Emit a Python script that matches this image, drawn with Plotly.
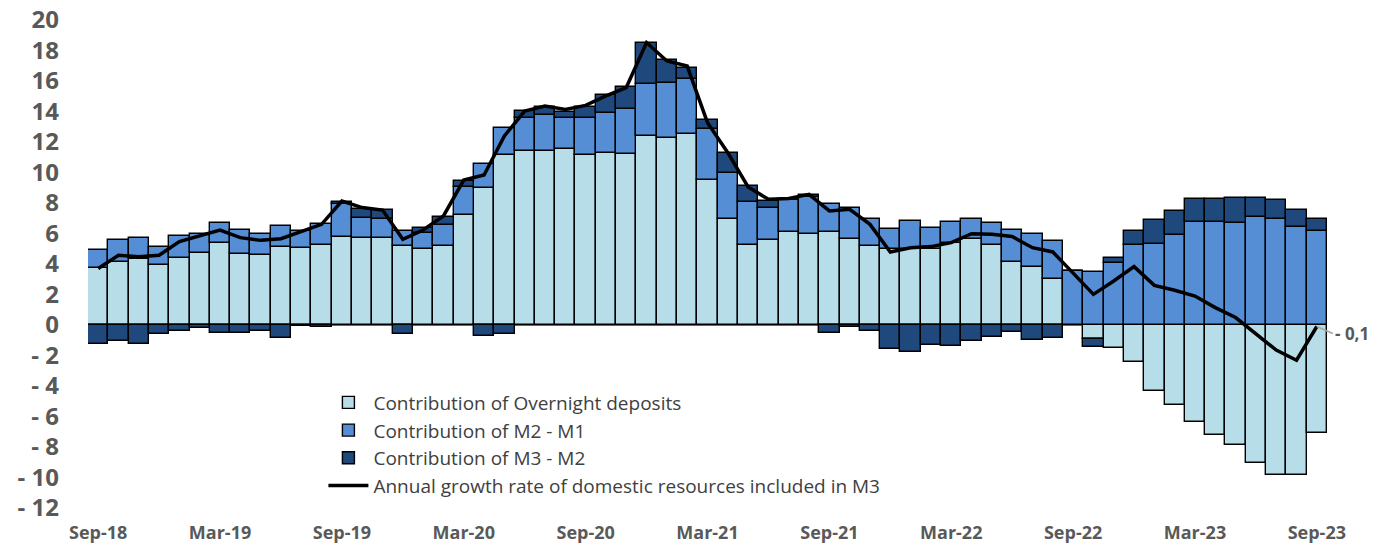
import pandas as pd
import plotly.graph_objects as go

months = pd.date_range("2018-09-01", "2023-09-01", freq="MS").strftime("%b-%y").tolist()

overnight = [3.76, 4.16, 4.35, 3.96, 4.42, 4.70, 5.40, 4.68, 4.62, 5.14,
             5.03, 5.25, 5.75, 5.73, 5.73, 5.18, 5.01, 5.16, 7.19, 8.96,
             11.15, 11.39, 11.39, 11.57, 11.17, 11.26, 11.21, 12.37, 12.26, 12.50,
             9.49, 6.93, 5.27, 5.58, 6.10, 5.95, 6.12, 5.67, 5.18, 4.96,
             4.96, 4.96, 5.40, 5.67, 5.27, 4.13, 3.83, 3.00, 0.0, -0.89,
             -1.53, -2.43, -4.30, -5.22, -6.36, -7.21, -7.89, -9.02, -9.86, -9.86,
             -7.06]

m2_m1 = [1.16, 1.39, 1.35, 1.18, 1.42, 1.29, 1.31, 1.55, 1.37, 1.33,
         1.13, 1.40, 2.16, 1.31, 1.25, 0.98, 1.00, 1.38, 1.88, 1.58,
         1.77, 2.21, 2.41, 2.03, 2.38, 2.62, 2.95, 3.41, 3.59, 3.66,
         3.34, 3.06, 2.80, 2.12, 2.10, 2.47, 1.84, 2.03, 1.80, 1.36,
         1.84, 1.40, 1.38, 1.31, 1.44, 2.10, 2.16, 2.51, 3.54, 3.46,
         4.09, 5.23, 5.29, 5.88, 6.78, 6.78, 6.71, 7.08, 6.93, 6.43,
         6.16]

m3_m2 = [-1.22, -1.05, -1.25, -0.59, -0.39, -0.20, -0.50, -0.54, -0.41, -0.87,
         -0.05, -0.13, 0.18, 0.59, 0.54, -0.56, 0.35, 0.56, 0.37, -0.72,
         -0.56, 0.46, 0.50, 0.39, 0.77, 1.18, 1.47, 2.69, 1.53, 0.67,
         0.59, 1.31, 1.04, 0.43, 0.05, 0.13, -0.50, -0.13, -0.39, -1.55,
         -1.77, -1.31, -1.38, -1.05, -0.76, -0.43, -0.98, -0.83, 0.0, -0.53,
         0.33, 0.96, 1.60, 1.60, 1.46, 1.51, 1.60, 1.27, 1.25, 1.11,
         0.77]

growth = [3.70, 4.57, 4.48, 4.57, 5.47, 5.84, 6.23, 5.73, 5.55, 5.66,
          6.16, 6.60, 8.13, 7.70, 7.54, 5.62, 6.23, 7.15, 9.50, 9.84,
          12.40, 14.03, 14.36, 14.14, 14.40, 15.02, 15.57, 18.52, 17.31, 16.98,
          13.27, 11.30, 9.05, 8.24, 8.29, 8.57, 7.48, 7.59, 6.60, 4.79,
          5.07, 5.14, 5.40, 5.99, 5.95, 5.80, 5.07, 4.79, 3.40, 2.01,
          2.89, 3.83, 2.60, 2.28, 1.90, 1.14, 0.49, -0.61, -1.64, -2.31,
          -0.10]

x_tick_labels = ["Sep-18", "Mar-19", "Sep-19", "Mar-20", "Sep-20", "Mar-21",
                 "Sep-21", "Mar-22", "Sep-22", "Mar-23", "Sep-23"]
y_tick_values = [20, 18, 16, 14, 12, 10, 8, 6, 4, 2, 0, -2, -4, -6, -8, -10, -12]
y_tick_labels = ["20", "18", "16", "14", "12", "10", "8", "6", "4", "2", "0",
                 "- 2", "- 4", "- 6", "- 8", "- 10", "- 12"]
last_label = "- 0,1"

names = ["Contribution of Overnight deposits", "Contribution of M2 - M1",
         "Contribution of M3 - M2",
         "Annual growth rate of domestic resources included in M3"]
colors = ["#B7DEE8", "#558ED5", "#1F497D"]

fig = go.Figure()
for vals, nm, col in zip([overnight, m2_m1, m3_m2], names[:3], colors):
    fig.add_trace(go.Bar(x=months, y=vals, name=nm,
                         marker=dict(color=col, line=dict(color="#000000", width=1.4))))
fig.add_trace(go.Scatter(x=months, y=growth, name=names[3], mode="lines",
                         line=dict(color="#000000", width=3.5)))

fig.add_annotation(x=months[-1], y=growth[-1], text=last_label, showarrow=True,
                   arrowhead=0, arrowwidth=1.5, arrowcolor="#A6A6A6",
                   ax=16, ay=7, xanchor="left", yanchor="middle",
                   font=dict(family="Open Sans", size=17, color="#595959", weight=700))

fig.update_layout(
    width=1384, height=551,
    margin=dict(l=88, r=57, t=20, b=43),
    paper_bgcolor="white", plot_bgcolor="white",
    barmode="relative", bargap=0,
    showlegend=True,
    legend=dict(x=0.19, y=0.255, xanchor="left", yanchor="top",
                traceorder="normal", bgcolor="rgba(0,0,0,0)",
                font=dict(family="Open Sans", size=19, color="#404040"),
                tracegroupgap=0, itemwidth=40),
    xaxis=dict(type="category", range=[-0.5, 60.5], tickmode="array",
               tickvals=x_tick_labels, ticktext=x_tick_labels,
               showgrid=False, showline=False, ticks="", automargin=False,
               ticklabelstandoff=12, ticklabeloverflow="allow",
               tickfont=dict(family="Open Sans", size=18, color="#595959", weight=700)),
    yaxis=dict(range=[-12, 20], tickmode="array", tickvals=y_tick_values,
               ticktext=y_tick_labels, showgrid=False, showline=False,
               zeroline=True, zerolinecolor="#4A6A94", zerolinewidth=2,
               layer="above traces", ticklabelstandoff=28, automargin=False,
               ticklabeloverflow="allow",
               tickfont=dict(family="Open Sans", size=24, color="#595959", weight=700)),
)

fig.write_html("out.html", config={"displayModeBar": False},
               post_script="document.body.style.margin='0';")
